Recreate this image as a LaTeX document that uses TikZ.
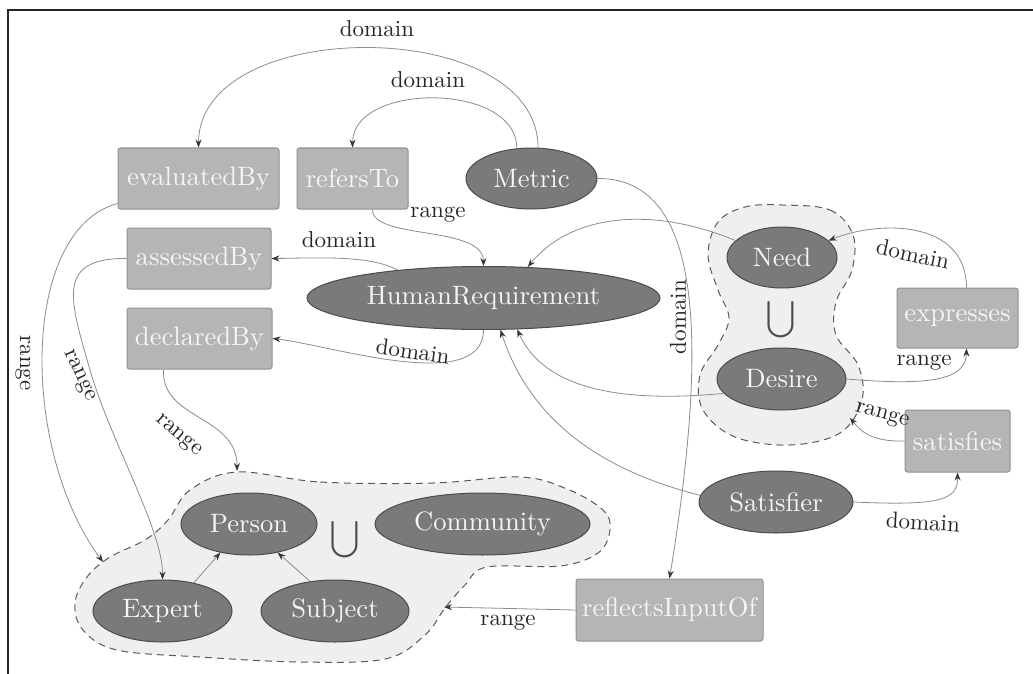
\documentclass[tikz,border=0pt]{standalone}
\usepackage{fontspec}
\setmainfont{lmroman10-regular.otf}
\usetikzlibrary{shapes.geometric,arrows.meta}
\definecolor{boxfill}{RGB}{181,181,181}
\definecolor{boxline}{RGB}{145,145,145}
\definecolor{ellfill}{RGB}{122,122,122}
\definecolor{ellline}{RGB}{75,75,75}
\definecolor{blobfill}{RGB}{239,239,239}
\definecolor{blobline}{RGB}{90,90,90}
\definecolor{edgecol}{RGB}{140,140,140}
\definecolor{tipcol}{RGB}{55,55,55}
\definecolor{nodetext}{RGB}{245,245,245}
\begin{document}
\begin{tikzpicture}[x=1pt,y=-1pt,
  cls/.style={ellipse, fill=ellfill, draw=ellline, line width=1pt, text=nodetext, inner sep=0pt, font=\fontsize{26.6}{32}\selectfont},
  prop/.style={rectangle, rounded corners=2.5pt, fill=boxfill, draw=boxline, line width=1pt, text=nodetext, inner sep=0pt, font=\fontsize{26.6}{32}\selectfont},
  conn/.style={draw=edgecol, line width=0.8pt, -{Stealth[length=8pt,width=6pt,color=tipcol]}},
  lbl/.style={font=\fontsize{23}{28}\selectfont, text=black!85, inner sep=1pt},
  blob/.style={fill=blobfill, draw=blobline, dash pattern=on 7pt off 5pt, line width=1pt},
  cupsym/.style={text=black!70, inner sep=0pt}
]
\useasboundingbox (0,0) rectangle (1033,674);
\fill[white] (0,0) rectangle (1033,674);
% frame
\draw[line width=2.5pt, black!85] (8,674) -- (8,10) -- (1033,10);

% group backgrounds
\draw[blob] plot[smooth cycle, tension=0.6] coordinates {(782,205) (830,210) (853,235) (852,270) (836,302) (836,335) (858,365) (862,400) (840,433) (790,445) (735,437) (703,410) (700,375) (718,345) (729,318) (718,290) (708,255) (718,222) (745,207)};
\draw[blob] plot[smooth cycle, tension=0.6] coordinates {(237,472) (320,482) (433,483) (520,477) (567,489) (603,510) (610,530) (598,553) (560,566) (487,567) (465,585) (445,608) (425,635) (385,659) (300,662) (200,657) (117,650) (83,630) (75,603) (87,577) (110,557) (145,540) (168,520) (190,490)};

\coordinate (pb1) at (103,562);
\coordinate (pb2) at (237,471);
\coordinate (pb3) at (444,607);
\coordinate (nb1) at (850,418);

% properties
\node[prop, minimum width=161pt, minimum height=61pt] (evaluatedBy) at (198.5,178.5) {evaluatedBy};
\node[prop, minimum width=111pt, minimum height=61pt] (refersTo) at (352.5,178.5) {refersTo};
\node[prop, minimum width=144pt, minimum height=61pt] (assessedBy) at (199,258.5) {assessedBy};
\node[prop, minimum width=145pt, minimum height=61pt] (declaredBy) at (199.5,338.5) {declaredBy};
\node[prop, minimum width=121pt, minimum height=60pt] (expresses) at (957.5,318) {expresses};
\node[prop, minimum width=105pt, minimum height=62pt] (satisfies) at (957.5,441) {satisfies};
\node[prop, minimum width=187pt, minimum height=62pt] (reflectsInputOf) at (669.5,610) {reflectsInputOf};

% classes
\node[cls, minimum width=131pt, minimum height=61pt] (Metric) at (531.5,178.5) {Metric};
\node[cls, minimum width=353pt, minimum height=63pt] (HR) at (483.5,298) {HumanRequirement};
\node[cls, minimum width=110pt, minimum height=61pt] (Need) at (782,257.5) {Need};
\node[cls, minimum width=129pt, minimum height=62pt] (Desire) at (781.5,379) {Desire};
\node[cls, minimum width=154pt, minimum height=62pt] (Satisfier) at (776,502) {Satisfier};
\node[cls, minimum width=136pt, minimum height=62pt] (Person) at (249,524) {Person};
\node[cls, minimum width=215pt, minimum height=62pt] (Community) at (482.5,524) {Community};
\node[cls, minimum width=139pt, minimum height=62pt] (Expert) at (162.5,611) {Expert};
\node[cls, minimum width=148pt, minimum height=62pt] (Subject) at (335,611) {Subject};

\node[cupsym] (cup1) at (345,540) {\scalebox{2.6}{$\displaystyle\bigcup$}};
\node[cupsym] (cup2) at (781,320) {\scalebox{2.6}{$\displaystyle\bigcup$}};

% connectors
\draw[conn] (Metric.78) .. controls (538,15) and (199,15) .. (evaluatedBy.north);
\draw[conn] (Metric.116) .. controls (517,82) and (353,82) .. (refersTo.north);
\draw[conn] (Metric.east) .. controls (690,178) and (715,300) .. (reflectsInputOf.north);
\draw[conn] ([xshift=20pt]refersTo.south) .. controls (372,240) and (483,225) .. (HR.north);
\draw[conn] (HR.162) .. controls (370,255) and (320,258) .. (assessedBy.east);
\draw[conn] (HR.south) .. controls (483,395) and (330,345) .. (declaredBy.east);
\draw[conn] ([yshift=6pt]evaluatedBy.south west) .. controls (20,230) and (20,450) .. (pb1);
\draw[conn] (assessedBy.west) .. controls (55,258) and (70,300) .. (90,370) .. controls (110,440) and (163,530) .. (Expert.north);
\draw[conn] ([xshift=-36pt]declaredBy.south) .. controls (161,420) and (237,415) .. (pb2);
\draw[conn] (Need.160) .. controls (650,205) and (570,215) .. (HR.35);
\draw[conn] (Desire.194) .. controls (600,405) and (540,380) .. (HR.-43);
\draw[conn] (Satisfier.175) .. controls (600,470) and (530,420) .. (HR.-62);
\draw[conn] (Expert.42) -- (Person.225);
\draw[conn] (Subject.130) -- (Person.-45);
\draw[conn] (reflectsInputOf.west) -- (pb3);
\draw[conn] ([xshift=9pt]expresses.north) .. controls (966,220) and (880,220) .. (Need.20);
\draw[conn] (Desire.east) .. controls (930,386) and (966,380) .. ([xshift=9pt]expresses.south);
\draw[conn] (satisfies.west) .. controls (870,442) and (860,430) .. (nb1);
\draw[conn] (Satisfier.east) .. controls (940,506) and (958,500) .. (satisfies.south);

% labels
\node[lbl] (l1) at (377,29) {domain};
\node[lbl] (l2) at (428,80) {domain};
\node[lbl] (l3) at (438,215) {range};
\node[lbl] (l4) at (339,240) {domain};
\node[lbl, rotate=-8] (l5) at (413,351) {domain};
\node[lbl, rotate=-90] (l6) at (23,363) {range};
\node[lbl, rotate=-65] (l7) at (79,376) {range};
\node[lbl, rotate=-40] (l8) at (178,436) {range};
\node[lbl, rotate=90] (l9) at (678,317) {domain};
\node[lbl, rotate=-12] (l10) at (913,254) {domain};
\node[lbl] (l11) at (924,363) {range};
\node[lbl, rotate=-15] (l12) at (882,416) {range};
\node[lbl, rotate=-3] (l13) at (923,522) {domain};
\node[lbl] (l14) at (508,623) {range};
\end{tikzpicture}
\end{document}
